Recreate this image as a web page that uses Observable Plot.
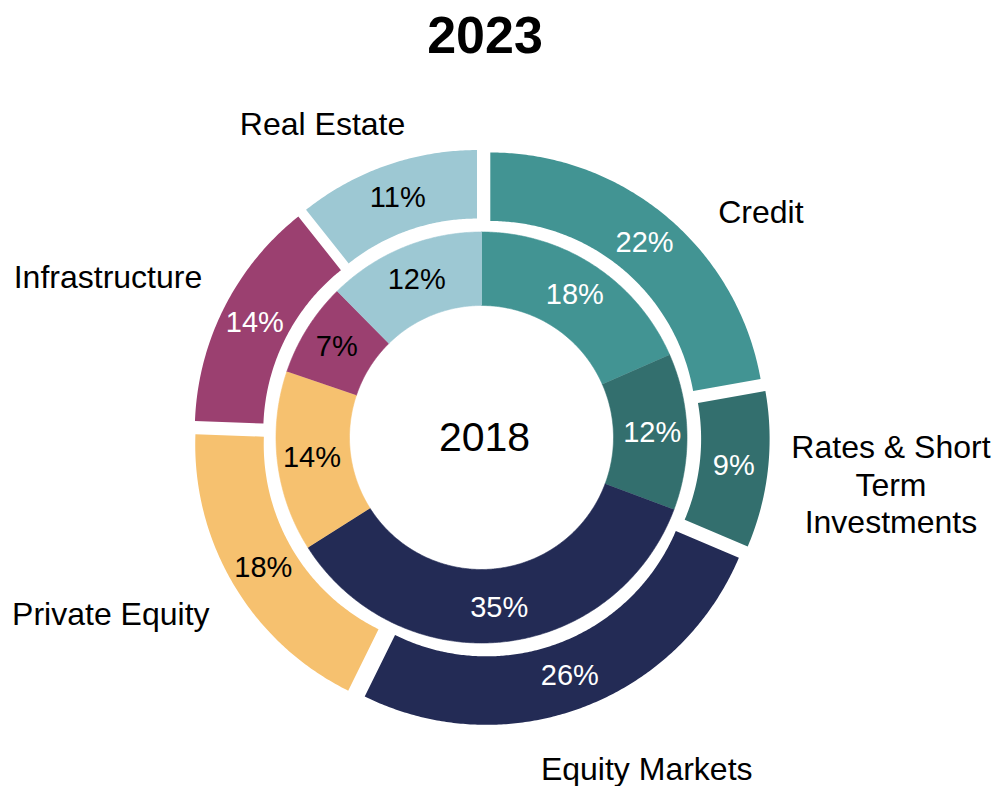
<!DOCTYPE html>
<html><head><meta charset="utf-8">
<script src="https://cdn.jsdelivr.net/npm/d3@7"></script>
<script src="https://cdn.jsdelivr.net/npm/@observablehq/plot@0.6"></script>
<style>
body{margin:0;background:#fff;font-family:"Liberation Sans",Arial,sans-serif;}
#title{box-sizing:border-box;height:70px;width:970px;padding-top:9px;text-align:center;font-weight:bold;font-size:52px;line-height:52px;color:#000;}
#chart svg{display:block;}
</style></head><body>
<div id="title">2023</div>
<div id="chart"></div>
<script>
// ---- data ----
const categories = ["Credit", "Rates & Short Term Investments", "Equity Markets", "Private Equity", "Infrastructure", "Real Estate"];
const categoryLabels = ["Credit", "Rates & Short\nTerm\nInvestments", "Equity Markets", "Private Equity", "Infrastructure", "Real Estate"];
const values2023 = [22.2, 9.2, 25.9, 18.3, 13.7, 10.7];   // outer ring
const values2018 = [18.4, 12.3, 35.3, 14.2, 7.4, 12.4];   // inner ring
const outerYear = "2023";
const innerYear = "2018";

// ---- styles / layout ----
const colors = ["#429493", "#336f6e", "#232b55", "#f6c16f", "#9b4070", "#9dc8d3"];
const outerTextColors = ["white", "white", "white", "black", "white", "black"];
const innerTextColors = ["white", "white", "white", "black", "black", "black"];
const labelAngle = [50.9, 96.4, 153.4, 244.7, 293.4, 333.2];
const labelRadius = [360, 412, 369, 410, 407, 352.5];
const W = 994, H = 716, CX = 481, CY = 367;
const R_HOLE = 132, R_INNER = 205.5, R_OUTER0 = 206, R_OUTER1 = 274.5, EXPLODE = 13.7;
const FONT = "Liberation Sans, Arial, Helvetica, sans-serif";

const rad = d => d * Math.PI / 180;
function pie(values) {
  const total = d3.sum(values);
  let a = 0;
  return values.map(v => { const a0 = a; a += v / total * 360; return [a0, a]; });
}
function wedge(ring, cat, a0, a1, r0, r1, shift) {
  const mid = rad((a0 + a1) / 2);
  const sx = shift * Math.sin(mid), sy = shift * Math.cos(mid);
  const n = Math.max(2, Math.ceil((a1 - a0) / 0.5));
  const pts = [];
  for (let i = 0; i <= n; i++) { const a = rad(a0 + (a1 - a0) * i / n); pts.push({ring, cat, x: sx + r1 * Math.sin(a), y: sy + r1 * Math.cos(a)}); }
  for (let i = n; i >= 0; i--) { const a = rad(a0 + (a1 - a0) * i / n); pts.push({ring, cat, x: sx + r0 * Math.sin(a), y: sy + r0 * Math.cos(a)}); }
  return pts;
}

const outerAngles = pie(values2023), innerAngles = pie(values2018);
const outerPts = [], innerPts = [], pctLabels = [];
categories.forEach((c, i) => {
  const [o0, o1] = outerAngles[i];
  outerPts.push(...wedge("outer", c, o0, o1, R_OUTER0, R_OUTER1, EXPLODE));
  const om = rad((o0 + o1) / 2), orr = (R_OUTER0 + R_OUTER1) / 2 + EXPLODE;
  pctLabels.push({x: orr * Math.sin(om), y: orr * Math.cos(om), text: Math.round(values2023[i]) + "%", color: outerTextColors[i]});
  const [i0, i1] = innerAngles[i];
  innerPts.push(...wedge("inner", c, i0, i1, R_HOLE, R_INNER, 0));
  const im = rad((i0 + i1) / 2), irr = (R_HOLE + R_INNER) / 2 + 2;
  pctLabels.push({x: irr * Math.sin(im), y: irr * Math.cos(im), text: Math.round(values2018[i]) + "%", color: innerTextColors[i]});
});
const catLabels = categories.map((c, i) => ({
  x: labelRadius[i] * Math.sin(rad(labelAngle[i])),
  y: labelRadius[i] * Math.cos(rad(labelAngle[i])),
  text: categoryLabels[i]
}));

const chart = Plot.plot({
  width: W, height: H, margin: 0,
  style: {fontFamily: FONT, background: "white"},
  x: {domain: [-CX, W - CX], range: [0, W], axis: null},
  y: {domain: [CY - H, CY], range: [H, 0], axis: null},
  color: {domain: categories, range: colors},
  marks: [
    Plot.line(innerPts, {x: "x", y: "y", z: "cat", fill: "cat", stroke: "cat", strokeWidth: 0.6, curve: "linear"}),
    Plot.line(outerPts, {x: "x", y: "y", z: "cat", fill: "cat", stroke: "none", curve: "linear"}),
    Plot.text(pctLabels.filter(d => d.color === "white"), {x: "x", y: "y", text: "text", fill: "white", fontSize: 29, fontFamily: FONT}),
    Plot.text(pctLabels.filter(d => d.color === "black"), {x: "x", y: "y", text: "text", fill: "black", fontSize: 29, fontFamily: FONT}),
    Plot.text(catLabels, {x: "x", y: "y", text: "text", fill: "black", fontSize: 32, lineHeight: 1.18, fontFamily: FONT}),
    Plot.text([{x: 0, y: 0, text: innerYear}], {x: "x", y: "y", text: "text", fill: "black", fontSize: 41, dx: 3, fontFamily: FONT})
  ]
});
document.getElementById("title").textContent = outerYear;
document.getElementById("chart").appendChild(chart);
</script>
</body></html>
